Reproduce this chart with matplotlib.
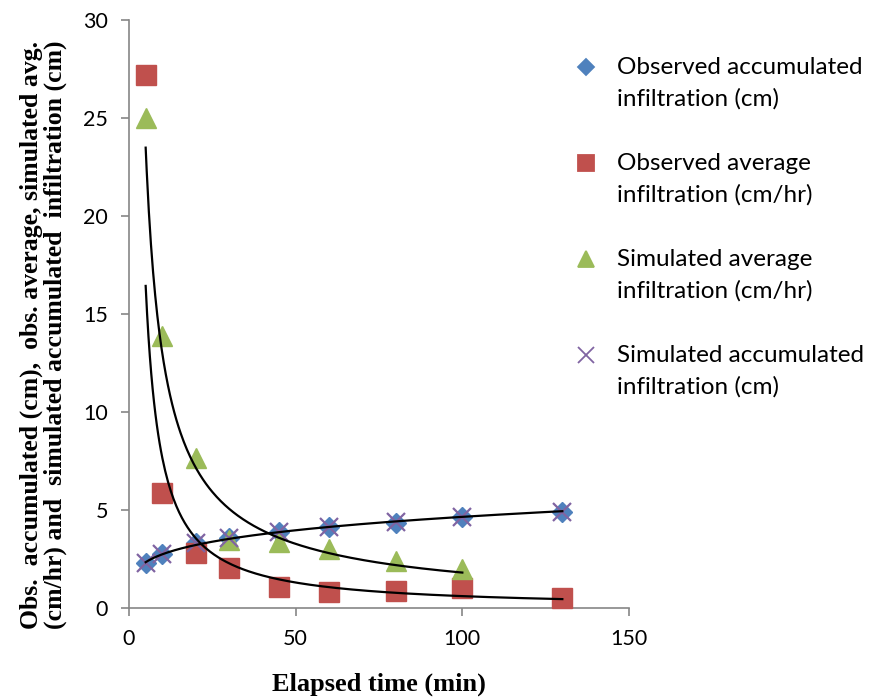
import matplotlib.pyplot as plt
from matplotlib.lines import Line2D
import numpy as np

# tiempos de medida (min)
tiempo = [5, 10, 20, 30, 45, 60, 80, 100, 130]
tiempo_sim = [5, 10, 20, 30, 45, 60, 80, 100]

# infiltracion observada y simulada
obs_acum = [2.28, 2.76, 3.30, 3.56, 3.89, 4.15, 4.35, 4.66, 4.88]
obs_media = [27.2, 5.87, 2.82, 2.02, 1.09, 0.80, 0.87, 1.00, 0.49]
sim_media = [25.0, 13.9, 7.65, 3.47, 3.35, 3.03, 2.38, 1.97]
sim_acum = [2.30, 2.74, 3.32, 3.56, 3.90, 4.14, 4.37, 4.66, 4.90]

etiquetas = [("Observed accumulated", "infiltration (cm)"),
             ("Observed average", "infiltration (cm/hr)"),
             ("Simulated average", "infiltration (cm/hr)"),
             ("Simulated accumulated", "infiltration (cm)")]

azul, rojo, verde, morado = "#4F81BD", "#C0504D", "#9BBB59", "#8064A2"
gris = "#868686"
fuente = "Lato"


def ajuste_potencia(x, y):
    # linea de tendencia potencial y = a*x^b (ajuste en log-log)
    x = np.asarray(x, float)
    y = np.asarray(y, float)
    b, lna = np.polyfit(np.log(x), np.log(y), 1)
    xs = np.linspace(x.min(), x.max(), 300)
    return xs, np.exp(lna) * xs ** b


fig = plt.figure(figsize=(8.76, 7.0), dpi=100)
ax = fig.add_axes([129 / 876, 1 - 608 / 700, 500 / 876, 588 / 700])

ax.plot(tiempo, obs_acum, "D", color=azul, markersize=10, zorder=3, clip_on=False)
ax.plot(tiempo, obs_media, "s", color=rojo, markersize=14, zorder=3, clip_on=False)
ax.plot(tiempo_sim, sim_media, "^", color=verde, markersize=14, zorder=3, clip_on=False)
ax.plot(tiempo, sim_acum, "x", color=morado, markersize=13, markeredgewidth=1.6,
        zorder=4, clip_on=False)

for xs, ys in (ajuste_potencia(tiempo, obs_acum),
               ajuste_potencia(tiempo, obs_media),
               ajuste_potencia(tiempo_sim, sim_media)):
    ax.plot(xs, ys, color="black", linewidth=1.6, zorder=5)

ax.set_xlim(0, 150)
ax.set_ylim(0, 30)
ax.set_xticks(range(0, 151, 50))
ax.set_yticks(range(0, 31, 5))
for lado in ("top", "right"):
    ax.spines[lado].set_visible(False)
for lado in ("left", "bottom"):
    ax.spines[lado].set_color(gris)
    ax.spines[lado].set_linewidth(1.2)
ax.tick_params(direction="out", length=6, width=1.2, color=gris, labelsize=15.5,
               labelcolor="black", pad=9)
for t in ax.get_xticklabels() + ax.get_yticklabels():
    t.set_fontfamily(fuente)

fig.text(379 / 876, 1 - 684 / 700, "Elapsed time (min)", ha="center", va="center",
         fontfamily="Liberation Serif", fontweight="bold", fontsize=19)
fig.text(43 / 876, 1 - 335 / 700,
         "Obs.  accumulated (cm),  obs. average, simulated avg.\n"
         "(cm/hr) and  simulated accumulated  infiltration (cm)",
         rotation=90, ha="center", va="center", linespacing=1.05,
         fontfamily="Liberation Serif", fontweight="bold", fontsize=18.5)

# leyenda con el simbolo alineado a la primera linea
simbolos = [("D", azul, 8), ("s", rojo, 11), ("^", verde, 11), ("x", morado, 11)]
for i, ((m, c, ms), (l1, l2)) in enumerate(zip(simbolos, etiquetas)):
    yp = 67 + i * 96
    fig.add_artist(Line2D([586 / 876], [1 - yp / 700], marker=m, color=c,
                          markersize=ms, markeredgewidth=1.3, linestyle="none",
                          transform=fig.transFigure))
    fig.text(617 / 876, 1 - yp / 700, l1, ha="left", va="center",
             fontfamily=fuente, fontsize=17.5)
    fig.text(617 / 876, 1 - (yp + 32) / 700, l2, ha="left", va="center",
             fontfamily=fuente, fontsize=17.5)

fig.savefig("out.png", dpi=100)
